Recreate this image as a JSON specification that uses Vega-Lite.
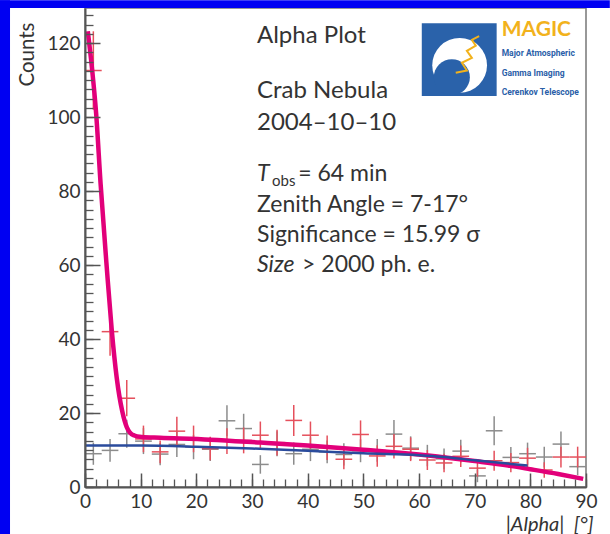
{
  "$schema": "https://vega.github.io/schema/vega-lite/v6.json",
  "width": 501,
  "height": 479,
  "autosize": {"type": "none"},
  "padding": {"left": 85, "top": 8, "right": 24, "bottom": 47},
  "background": "white",
  "config": {"view": {"stroke": "#777777", "strokeWidth": 1.5}, "font": "Lato"},
  "resolve": {"axis": {"x": "independent", "y": "independent"}},
  "datasets": {
    "bins": [
      {"x": 1.5, "lo": 0, "hi": 3, "on": 112.6, "on_err": 10.6, "off": 9.0, "off_err": 3.0},
      {"x": 4.5, "lo": 3, "hi": 6, "on": 42.0, "on_err": 6.5, "off": 9.9, "off_err": 3.1},
      {"x": 7.5, "lo": 6, "hi": 9, "on": 24.0, "on_err": 4.9, "off": 14.4, "off_err": 3.8},
      {"x": 10.5, "lo": 9, "hi": 12, "on": 13.0, "on_err": 3.6, "off": 12.4, "off_err": 3.5},
      {"x": 13.5, "lo": 12, "hi": 15, "on": 9.5, "on_err": 3.1, "off": 8.9, "off_err": 3.0},
      {"x": 16.5, "lo": 15, "hi": 18, "on": 15.1, "on_err": 3.9, "off": 11.5, "off_err": 3.4},
      {"x": 19.5, "lo": 18, "hi": 21, "on": 13.0, "on_err": 3.6, "off": 10.8, "off_err": 3.3},
      {"x": 22.5, "lo": 21, "hi": 24, "on": 10.4, "on_err": 3.2, "off": 10.2, "off_err": 3.2},
      {"x": 25.5, "lo": 24, "hi": 27, "on": 12.4, "on_err": 3.5, "off": 17.9, "off_err": 4.2},
      {"x": 28.5, "lo": 27, "hi": 30, "on": 12.6, "on_err": 3.5, "off": 15.8, "off_err": 4.0},
      {"x": 31.5, "lo": 30, "hi": 33, "on": 14.0, "on_err": 3.7, "off": 6.1, "off_err": 2.5},
      {"x": 34.5, "lo": 33, "hi": 36, "on": 12.0, "on_err": 3.5, "off": 11.7, "off_err": 3.4},
      {"x": 37.5, "lo": 36, "hi": 39, "on": 18.0, "on_err": 4.2, "off": 9.0, "off_err": 3.0},
      {"x": 40.5, "lo": 39, "hi": 42, "on": 14.0, "on_err": 3.7, "off": 10.2, "off_err": 3.2},
      {"x": 43.5, "lo": 42, "hi": 45, "on": 10.6, "on_err": 3.3, "off": 9.5, "off_err": 3.1},
      {"x": 46.5, "lo": 45, "hi": 48, "on": 7.5, "on_err": 2.7, "off": 8.8, "off_err": 3.0},
      {"x": 49.5, "lo": 48, "hi": 51, "on": 14.2, "on_err": 3.8, "off": 9.8, "off_err": 3.1},
      {"x": 52.5, "lo": 51, "hi": 54, "on": 8.4, "on_err": 2.9, "off": 9.9, "off_err": 3.1},
      {"x": 55.5, "lo": 54, "hi": 57, "on": 11.0, "on_err": 3.3, "off": 14.3, "off_err": 3.8},
      {"x": 58.5, "lo": 57, "hi": 60, "on": 10.2, "on_err": 3.2, "off": 10.5, "off_err": 3.2},
      {"x": 61.5, "lo": 60, "hi": 63, "on": 7.3, "on_err": 2.7, "off": 8.5, "off_err": 2.9},
      {"x": 64.5, "lo": 63, "hi": 66, "on": 6.5, "on_err": 2.5, "off": 7.6, "off_err": 2.8},
      {"x": 67.5, "lo": 66, "hi": 69, "on": 8.3, "on_err": 2.9, "off": 9.7, "off_err": 3.1},
      {"x": 70.5, "lo": 69, "hi": 72, "on": 5.1, "on_err": 2.3, "off": 3.0, "off_err": 1.7},
      {"x": 73.5, "lo": 72, "hi": 75, "on": 7.1, "on_err": 2.7, "off": 15.2, "off_err": 3.9},
      {"x": 76.5, "lo": 75, "hi": 78, "on": 6.6, "on_err": 2.6, "off": 8.0, "off_err": 2.8},
      {"x": 79.5, "lo": 78, "hi": 81, "on": 7.8, "on_err": 2.8, "off": 9.0, "off_err": 3.0},
      {"x": 82.5, "lo": 81, "hi": 84, "on": 4.6, "on_err": 2.1, "off": 8.1, "off_err": 2.8},
      {"x": 85.5, "lo": 84, "hi": 87, "on": 8.1, "on_err": 2.8, "off": 11.6, "off_err": 3.4},
      {"x": 88.5, "lo": 87, "hi": 90, "on": 8.1, "on_err": 2.8, "off": 5.5, "off_err": 2.3}
    ],
    "fit_on": [
      {"a": 0.5, "n": 123.2}, {"a": 1.2, "n": 114}, {"a": 2.0, "n": 101}, {"a": 2.8, "n": 82},
      {"a": 3.9, "n": 59.5}, {"a": 4.8, "n": 42.5}, {"a": 5.7, "n": 29.5}, {"a": 6.7, "n": 20.4},
      {"a": 7.5, "n": 16.2}, {"a": 8.7, "n": 14.0}, {"a": 10.2, "n": 13.5}, {"a": 13.5, "n": 13.3},
      {"a": 22.5, "n": 12.8}, {"a": 31.5, "n": 12.0}, {"a": 40, "n": 11.2}, {"a": 50, "n": 10.1},
      {"a": 60, "n": 8.8}, {"a": 64, "n": 8.1}, {"a": 70, "n": 7.0}, {"a": 76, "n": 5.8},
      {"a": 80, "n": 4.8}, {"a": 85, "n": 3.5}, {"a": 89.5, "n": 2.2}
    ],
    "fit_off": [
      {"a": 0, "n": 11.2}, {"a": 10, "n": 11.2}, {"a": 20, "n": 10.9}, {"a": 30, "n": 10.4},
      {"a": 40, "n": 9.8}, {"a": 50, "n": 9.1}, {"a": 60, "n": 8.6}, {"a": 64, "n": 8.2},
      {"a": 70, "n": 7.2}, {"a": 79.5, "n": 5.8}
    ],
    "txt_big": [
      {"x": 30.9, "y": 120.1, "t": "Alpha Plot"},
      {"x": 30.9, "y": 105.2, "t": "Crab Nebula"},
      {"x": 30.9, "y": 96.5, "t": "2004–10–10"}
    ],
    "txt_med": [
      {"x": 38.3, "y": 82.7, "t": "= 64 min"},
      {"x": 30.9, "y": 74.4, "t": "Zenith Angle = 7-17°"},
      {"x": 30.9, "y": 66.2, "t": "Significance = 15.99 σ"},
      {"x": 39.0, "y": 58.2, "t": "> 2000 ph. e."}
    ],
    "txt_it": [
      {"x": 30.9, "y": 82.7, "t": "T"},
      {"x": 30.9, "y": 58.2, "t": "Size"}
    ],
    "txt_sub": [{"x": 33.6, "y": 81.3, "t": "obs"}],
    "logo_small": [
      {"x": 74.85, "y": 116.6, "t": "Major Atmospheric"},
      {"x": 74.85, "y": 111.2, "t": "Gamma Imaging"},
      {"x": 74.85, "y": 106.0, "t": "Cerenkov Telescope"}
    ],
    "zig": [
      {"i": 0, "x": 66.6, "y": 112.0}, {"i": 1, "x": 68.6, "y": 112.6}, {"i": 2, "x": 67.7, "y": 114.7},
      {"i": 3, "x": 69.5, "y": 116.0}, {"i": 4, "x": 68.6, "y": 117.9}, {"i": 5, "x": 70.2, "y": 119.3},
      {"i": 6, "x": 69.5, "y": 120.9}, {"i": 7, "x": 70.8, "y": 121.9}
    ]
  },
  "layer": [
    {
      "data": {"values": [{}]},
      "mark": {"type": "rect", "color": "#0000f2"},
      "encoding": {
        "x": {"datum": -15.27, "type": "quantitative", "scale": {"domain": [0, 90], "nice": false, "zero": false}, "axis": null},
        "x2": {"datum": -13.47},
        "y": {"datum": -12.75, "type": "quantitative", "scale": {"domain": [0, 129.5], "nice": false, "zero": false}, "axis": null},
        "y2": {"datum": 131.6}
      }
    },
    {
      "data": {"values": [{}]},
      "mark": {"type": "rect", "color": "#0000f2"},
      "encoding": {
        "x": {"datum": -15.27, "type": "quantitative", "scale": {"domain": [0, 90], "nice": false, "zero": false}, "axis": null},
        "x2": {"datum": 94.28},
        "y": {"datum": 129.5, "type": "quantitative", "scale": {"domain": [0, 129.5], "nice": false, "zero": false}, "axis": null},
        "y2": {"datum": 131.6}
      }
    },
    {
      "data": {"name": "bins"},
      "mark": {"type": "rule", "color": "#8c8c8c", "strokeWidth": 1.5},
      "encoding": {
        "x": {"field": "lo", "type": "quantitative", "scale": {"domain": [0, 90], "nice": false, "zero": false},
          "axis": {"orient": "bottom", "values": [0, 10, 20, 30, 40, 50, 60, 70, 80, 90], "grid": false, "zindex": 1,
            "tickSize": -14, "tickWidth": 1.5, "tickColor": "#555555", "domainColor": "#555555", "domainWidth": 2,
            "labelFontSize": 19, "labelColor": "#333333", "labelFont": "Lato", "labelPadding": 34, "labelBaseline": "alphabetic",
            "labelFlush": false, "labelOverlap": false,
            "title": "|Alpha|\u2002[°]", "titleFont": "Lato", "titleFontSize": 20, "titleFontWeight": "normal", "titleFontStyle": "italic",
            "titleColor": "#333333", "titleAlign": "right", "titleBaseline": "alphabetic", "titleX": 508, "titleY": 43}},
        "x2": {"field": "hi"},
        "y": {"field": "off", "type": "quantitative", "scale": {"domain": [0, 129.5], "nice": false, "zero": false},
          "axis": {"orient": "left", "values": [0, 20, 40, 60, 80, 100, 120], "grid": false, "zindex": 1,
            "tickSize": -15, "tickWidth": 1.5, "tickColor": "#555555", "domainColor": "#555555", "domainWidth": 2,
            "labelFontSize": 19, "labelColor": "#333333", "labelFont": "Lato", "labelPadding": 20, "labelOverlap": false, "labelFlush": false,
            "title": "Counts", "titleFont": "Lato", "titleFontSize": 20.5, "titleFontWeight": "normal", "titleColor": "#333333",
            "titleAngle": 270, "titleAlign": "right", "titleBaseline": "alphabetic", "titleX": -52, "titleY": 14}}
      }
    },
    {
      "data": {"name": "bins"},
      "mark": {"type": "errorbar", "ticks": false, "thickness": 1.5, "color": "#8c8c8c"},
      "encoding": {
        "x": {"field": "x", "type": "quantitative", "scale": {"domain": [0, 90], "nice": false, "zero": false}, "axis": null},
        "y": {"field": "off", "type": "quantitative", "scale": {"domain": [0, 129.5], "nice": false, "zero": false}, "axis": null},
        "yError": {"field": "off_err"}
      }
    },
    {
      "data": {"name": "bins"},
      "mark": {"type": "rule", "color": "#e5505c", "strokeWidth": 1.5},
      "encoding": {
        "x": {"field": "lo", "type": "quantitative", "scale": {"domain": [0, 90], "nice": false, "zero": false},
          "axis": {"orient": "bottom", "values": [0, 2, 4, 6, 8, 10, 12, 14, 16, 18, 20, 22, 24, 26, 28, 30, 32, 34, 36, 38, 40, 42, 44, 46, 48, 50, 52, 54, 56, 58, 60, 62, 64, 66, 68, 70, 72, 74, 76, 78, 80, 82, 84, 86, 88, 90],
            "grid": false, "zindex": 1, "labels": false, "domain": false, "title": null, "tickSize": -8, "tickWidth": 1.3, "tickColor": "#555555"}},
        "x2": {"field": "hi"},
        "y": {"field": "on", "type": "quantitative", "scale": {"domain": [0, 129.5], "nice": false, "zero": false},
          "axis": {"orient": "left", "values": [0, 2.5, 5, 7.5, 10, 12.5, 15, 17.5, 20, 22.5, 25, 27.5, 30, 32.5, 35, 37.5, 40, 42.5, 45, 47.5, 50, 52.5, 55, 57.5, 60, 62.5, 65, 67.5, 70, 72.5, 75, 77.5, 80, 82.5, 85, 87.5, 90, 92.5, 95, 97.5, 100, 102.5, 105, 107.5, 110, 112.5, 115, 117.5, 120, 122.5, 125, 127.5],
            "grid": false, "zindex": 1, "labels": false, "domain": false, "title": null, "tickSize": -8, "tickWidth": 1.3, "tickColor": "#555555"}}
      }
    },
    {
      "data": {"name": "bins"},
      "mark": {"type": "errorbar", "ticks": false, "thickness": 1.5, "color": "#e5505c"},
      "encoding": {
        "x": {"field": "x", "type": "quantitative", "scale": {"domain": [0, 90], "nice": false, "zero": false}, "axis": null},
        "y": {"field": "on", "type": "quantitative", "scale": {"domain": [0, 129.5], "nice": false, "zero": false}, "axis": null},
        "yError": {"field": "on_err"}
      }
    },
    {
      "data": {"name": "fit_on"},
      "mark": {"type": "line", "color": "#e2007a", "strokeWidth": 4.5, "interpolate": "monotone"},
      "encoding": {
        "x": {"field": "a", "type": "quantitative", "scale": {"domain": [0, 90], "nice": false, "zero": false}, "axis": null},
        "y": {"field": "n", "type": "quantitative", "scale": {"domain": [0, 129.5], "nice": false, "zero": false}, "axis": null}
      }
    },
    {
      "data": {"name": "fit_off"},
      "mark": {"type": "line", "color": "#2a4b9c", "strokeWidth": 2.5, "interpolate": "monotone"},
      "encoding": {
        "x": {"field": "a", "type": "quantitative", "scale": {"domain": [0, 90], "nice": false, "zero": false}, "axis": null},
        "y": {"field": "n", "type": "quantitative", "scale": {"domain": [0, 129.5], "nice": false, "zero": false}, "axis": null}
      }
    },
    {
      "data": {"values": [{}]},
      "mark": {"type": "rect", "color": "#2a62aa"},
      "encoding": {
        "x": {"datum": 60.5, "type": "quantitative", "scale": {"domain": [0, 90], "nice": false, "zero": false}, "axis": null},
        "x2": {"datum": 73.95},
        "y": {"datum": 105.7, "type": "quantitative", "scale": {"domain": [0, 129.5], "nice": false, "zero": false}, "axis": null},
        "y2": {"datum": 125.4}
      }
    },
    {
      "data": {"values": [{}]},
      "mark": {"type": "point", "shape": "circle", "filled": true, "color": "white", "opacity": 1, "size": 3000},
      "encoding": {
        "x": {"datum": 67.3, "type": "quantitative", "scale": {"domain": [0, 90], "nice": false, "zero": false}, "axis": null},
        "y": {"datum": 114.0, "type": "quantitative", "scale": {"domain": [0, 129.5], "nice": false, "zero": false}, "axis": null}
      }
    },
    {
      "data": {"values": [{}]},
      "mark": {"type": "point", "shape": "circle", "filled": true, "color": "#2a62aa", "opacity": 1, "size": 1300},
      "encoding": {
        "x": {"datum": 65.9, "type": "quantitative", "scale": {"domain": [0, 90], "nice": false, "zero": false}, "axis": null},
        "y": {"datum": 110.8, "type": "quantitative", "scale": {"domain": [0, 129.5], "nice": false, "zero": false}, "axis": null}
      }
    },
    {
      "data": {"name": "zig"},
      "mark": {"type": "line", "color": "#f2b21c", "strokeWidth": 2},
      "encoding": {
        "x": {"field": "x", "type": "quantitative", "scale": {"domain": [0, 90], "nice": false, "zero": false}, "axis": null},
        "y": {"field": "y", "type": "quantitative", "scale": {"domain": [0, 129.5], "nice": false, "zero": false}, "axis": null},
        "order": {"field": "i"}
      }
    },
    {
      "data": {"values": [{"t": "MAGIC"}]},
      "mark": {"type": "text", "align": "left", "baseline": "alphabetic", "font": "Lato", "fontWeight": "bold", "fontSize": 21, "color": "#f2b21c"},
      "encoding": {
        "x": {"datum": 74.85, "type": "quantitative", "scale": {"domain": [0, 90], "nice": false, "zero": false}, "axis": null},
        "y": {"datum": 121.8, "type": "quantitative", "scale": {"domain": [0, 129.5], "nice": false, "zero": false}, "axis": null},
        "text": {"field": "t"}
      }
    },
    {
      "data": {"name": "logo_small"},
      "mark": {"type": "text", "align": "left", "baseline": "alphabetic", "font": "Roboto", "fontWeight": "bold", "fontSize": 8.5, "color": "#2a5ea8"},
      "encoding": {
        "x": {"field": "x", "type": "quantitative", "scale": {"domain": [0, 90], "nice": false, "zero": false}, "axis": null},
        "y": {"field": "y", "type": "quantitative", "scale": {"domain": [0, 129.5], "nice": false, "zero": false}, "axis": null},
        "text": {"field": "t"}
      }
    },
    {
      "data": {"name": "txt_big"},
      "mark": {"type": "text", "align": "left", "baseline": "alphabetic", "font": "Lato", "fontSize": 24, "color": "#333333"},
      "encoding": {
        "x": {"field": "x", "type": "quantitative", "scale": {"domain": [0, 90], "nice": false, "zero": false}, "axis": null},
        "y": {"field": "y", "type": "quantitative", "scale": {"domain": [0, 129.5], "nice": false, "zero": false}, "axis": null},
        "text": {"field": "t"}
      }
    },
    {
      "data": {"name": "txt_med"},
      "mark": {"type": "text", "align": "left", "baseline": "alphabetic", "font": "Lato", "fontSize": 23, "color": "#333333"},
      "encoding": {
        "x": {"field": "x", "type": "quantitative", "scale": {"domain": [0, 90], "nice": false, "zero": false}, "axis": null},
        "y": {"field": "y", "type": "quantitative", "scale": {"domain": [0, 129.5], "nice": false, "zero": false}, "axis": null},
        "text": {"field": "t"}
      }
    },
    {
      "data": {"name": "txt_it"},
      "mark": {"type": "text", "align": "left", "baseline": "alphabetic", "font": "Lato", "fontSize": 23, "fontStyle": "italic", "color": "#333333"},
      "encoding": {
        "x": {"field": "x", "type": "quantitative", "scale": {"domain": [0, 90], "nice": false, "zero": false}, "axis": null},
        "y": {"field": "y", "type": "quantitative", "scale": {"domain": [0, 129.5], "nice": false, "zero": false}, "axis": null},
        "text": {"field": "t"}
      }
    },
    {
      "data": {"name": "txt_sub"},
      "mark": {"type": "text", "align": "left", "baseline": "alphabetic", "font": "Lato", "fontSize": 15, "color": "#333333"},
      "encoding": {
        "x": {"field": "x", "type": "quantitative", "scale": {"domain": [0, 90], "nice": false, "zero": false}, "axis": null},
        "y": {"field": "y", "type": "quantitative", "scale": {"domain": [0, 129.5], "nice": false, "zero": false}, "axis": null},
        "text": {"field": "t"}
      }
    }
  ]
}
